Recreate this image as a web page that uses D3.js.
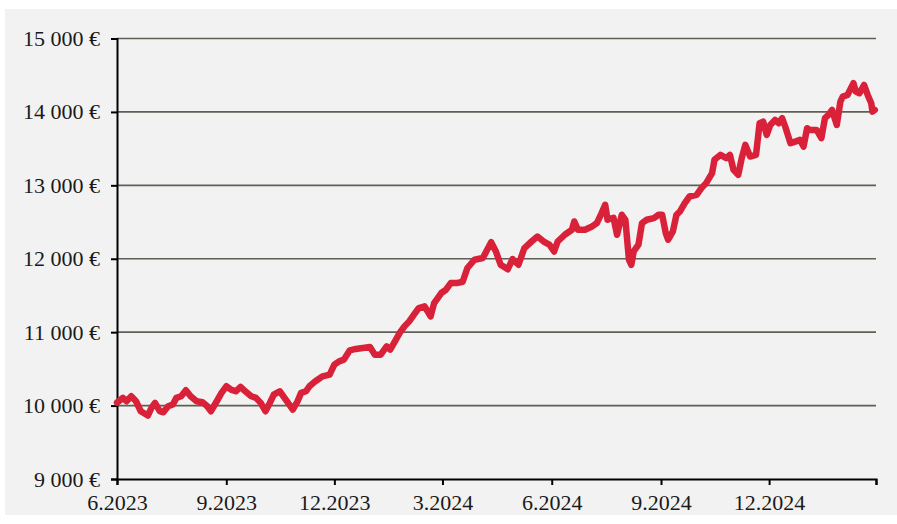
<!DOCTYPE html>
<html lang="de">

<head>
    <meta charset="UTF-8">
    <title>Depotwert</title>
    <script src="https://d3js.org/d3.v7.min.js"></script>
    <style>
        body { margin: 0; background: #ffffff; }
        svg { display: block; }
        text { font-family: "Liberation Serif", "DejaVu Serif", serif; fill: #1a1a1a; }
    </style>
</head>

<body>
    <svg width="897" height="524"></svg>
    <script>
        // values (date, € value)
        let dates = ["2023-06-01", "2023-06-06", "2023-06-09", "2023-06-13", "2023-06-17", "2023-06-21", "2023-06-27", "2023-06-30",
            "2023-07-03", "2023-07-07", "2023-07-10", "2023-07-14", "2023-07-18", "2023-07-21", "2023-07-25", "2023-07-29",
            "2023-08-02", "2023-08-07", "2023-08-12", "2023-08-16", "2023-08-19", "2023-08-24", "2023-08-28", "2023-09-01",
            "2023-09-05", "2023-09-09", "2023-09-13", "2023-09-17", "2023-09-22", "2023-09-26", "2023-09-30", "2023-10-04",
            "2023-10-07", "2023-10-11", "2023-10-16", "2023-10-20", "2023-10-23", "2023-10-27", "2023-10-31", "2023-11-03",
            "2023-11-07", "2023-11-10", "2023-11-15", "2023-11-21", "2023-11-27", "2023-12-01", "2023-12-05", "2023-12-09",
            "2023-12-14", "2023-12-19", "2023-12-25", "2023-12-31", "2024-01-04", "2024-01-09", "2024-01-14", "2024-01-17",
            "2024-01-21", "2024-01-25", "2024-01-29", "2024-02-02", "2024-02-06", "2024-02-10", "2024-02-15", "2024-02-20",
            "2024-02-23", "2024-02-29", "2024-03-04", "2024-03-08", "2024-03-13", "2024-03-18", "2024-03-22", "2024-03-28",
            "2024-04-04", "2024-04-11", "2024-04-15", "2024-04-19", "2024-04-25", "2024-04-29", "2024-05-04", "2024-05-09",
            "2024-05-15", "2024-05-20", "2024-05-26", "2024-05-30", "2024-06-03", "2024-06-06", "2024-06-12", "2024-06-18",
            "2024-06-20", "2024-06-23", "2024-06-29", "2024-07-05", "2024-07-09", "2024-07-13", "2024-07-16", "2024-07-18",
            "2024-07-23", "2024-07-26", "2024-07-30", "2024-08-02", "2024-08-05", "2024-08-07", "2024-08-09", "2024-08-13",
            "2024-08-16", "2024-08-20", "2024-08-26", "2024-08-30", "2024-09-02", "2024-09-05", "2024-09-07", "2024-09-11",
            "2024-09-14", "2024-09-17", "2024-09-21", "2024-09-25", "2024-10-01", "2024-10-05", "2024-10-09", "2024-10-14",
            "2024-10-16", "2024-10-21", "2024-10-26", "2024-10-29", "2024-11-01", "2024-11-05", "2024-11-08", "2024-11-11",
            "2024-11-15", "2024-11-20", "2024-11-23", "2024-11-26", "2024-11-29", "2024-12-02", "2024-12-06", "2024-12-09",
            "2024-12-12", "2024-12-15", "2024-12-19", "2024-12-23", "2024-12-27", "2024-12-30", "2025-01-02", "2025-01-04",
            "2025-01-10", "2025-01-14", "2025-01-17", "2025-01-20", "2025-01-23", "2025-01-27", "2025-01-30", "2025-02-01",
            "2025-02-05", "2025-02-10", "2025-02-12", "2025-02-15", "2025-02-19", "2025-02-22", "2025-02-25", "2025-02-26",
            "2025-02-28"]
        let values = [10040, 10105, 10059, 10127, 10059, 9923, 9864, 9969,
            10037, 9923, 9909, 9991, 10014, 10105, 10127, 10208,
            10127, 10059, 10045, 9991, 9923, 10059, 10173, 10263,
            10218, 10195, 10255, 10195, 10127, 10105, 10037, 9923,
            10014, 10150, 10195, 10105, 10037, 9946, 10059, 10173,
            10195, 10263, 10331, 10399, 10422, 10558, 10603, 10626,
            10753, 10772, 10785, 10799, 10694, 10694, 10807, 10762,
            10875, 10989, 11079, 11147, 11238, 11329, 11351, 11215,
            11397, 11533, 11578, 11669, 11669, 11687, 11874, 11987,
            12010, 12225, 12099, 11918, 11857, 11996, 11918, 12146,
            12235, 12303, 12225, 12191, 12099, 12235, 12327, 12395,
            12508, 12395, 12395, 12440, 12486, 12622, 12735, 12531,
            12558, 12327, 12599, 12531, 11987, 11918, 12099, 12191,
            12486, 12531, 12554, 12599, 12599, 12350, 12259, 12372,
            12599, 12644, 12758, 12848, 12871, 12962, 13030, 13166,
            13347, 13415, 13370, 13415, 13211, 13143, 13374, 13551,
            13392, 13415, 13846, 13868, 13687, 13823, 13891, 13846,
            13914, 13778, 13574, 13596, 13619, 13528, 13778, 13755,
            13755, 13642, 13914, 13959, 14027, 13823, 14140, 14208,
            14231, 14391, 14276, 14254, 14367, 14231, 14118, 14004,
            14027]

        let yTicks = [9000, 10000, 11000, 12000, 13000, 14000, 15000]
        let xTicks = ["2023-06-01", "2023-09-01", "2023-12-01", "2024-03-01", "2024-06-01", "2024-09-01", "2024-12-01", "2025-03-01"]
        let xTickLabels = ["6.2023", "9.2023", "12.2023", "3.2024", "6.2024", "9.2024", "12.2024", ""]

        let svg = d3.select("svg")
        let parse = d3.timeParse("%Y-%m-%d")
        let data = dates.map(function (d, i) { return { date: parse(d), value: values[i] } })

        // panel background
        svg.append("rect")
            .attr("x", 5).attr("y", 9)
            .attr("width", 892).attr("height", 506)
            .attr("fill", "#f2f2f2")

        let x = d3.scaleTime()
            .domain([parse("2023-06-01"), parse("2025-03-01")])
            .range([117, 876])
        let y = d3.scaleLinear()
            .domain([9000, 15000])
            .range([479, 38.5])

        // horizontal grid
        svg.append("g")
            .selectAll("line")
            .data(yTicks.slice(1))
            .enter()
            .append("line")
            .attr("x1", 117).attr("x2", 876)
            .attr("y1", function (d) { return y(d) })
            .attr("y2", function (d) { return y(d) })
            .attr("stroke", "#5f5f55")
            .attr("stroke-width", 1.6)

        // y axis
        let yAxis = svg.append("g")
            .attr("transform", "translate(117,0)")
            .call(d3.axisLeft(y).tickValues(yTicks).tickSize(6).tickPadding(11)
                .tickFormat(function (d) { return d3.format(",")(d).replace(",", " ") + " €" }))
        yAxis.attr("font-size", 22)
        yAxis.select(".domain").attr("stroke", "#000").attr("stroke-width", 2)
        yAxis.selectAll(".tick line").attr("stroke", "#000").attr("stroke-width", 2)
        yAxis.selectAll("text").style("font-size", "22px").attr("fill", "#1a1a1a")

        // x axis
        let xAxis = svg.append("g")
            .attr("transform", "translate(0,479)")
            .call(d3.axisBottom(x).tickValues(xTicks.map(parse)).tickSize(6).tickPadding(9)
                .tickFormat(function (d, i) { return xTickLabels[i] }))
        xAxis.attr("font-size", 22)
        xAxis.select(".domain").attr("stroke", "#000").attr("stroke-width", 2)
        xAxis.selectAll(".tick line").attr("stroke", "#000").attr("stroke-width", 2)
        xAxis.selectAll("text").style("font-size", "22px").attr("fill", "#1a1a1a")

        // value line
        let line = d3.line()
            .x(function (d) { return x(d.date) })
            .y(function (d) { return y(d.value) })
        svg.append("path")
            .datum(data)
            .attr("d", line)
            .attr("fill", "none")
            .attr("stroke", "#d9213a")
            .attr("stroke-width", 6.5)
            .attr("stroke-linejoin", "round")
            .attr("stroke-linecap", "round")
    </script>
</body>

</html>
